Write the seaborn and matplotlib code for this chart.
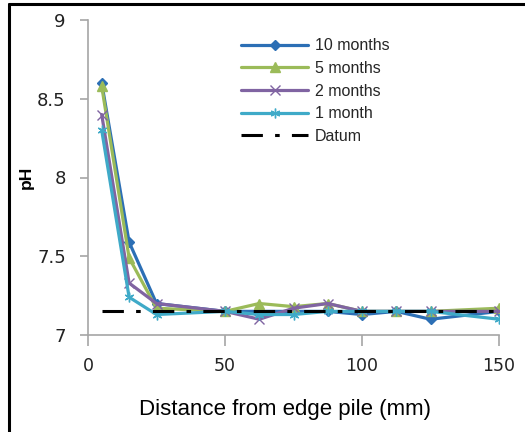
import matplotlib
matplotlib.use("Agg")
import matplotlib.pyplot as plt
import seaborn as sns
import pandas as pd
from matplotlib.lines import Line2D
from matplotlib.ticker import FuncFormatter

distance = [5, 15, 25, 50, 62.5, 75, 87.5, 100, 112.5, 125, 150]
ph_10m = [8.60, 7.59, 7.20, 7.15, 7.15, 7.15, 7.15, 7.13, 7.15, 7.10, 7.15]
ph_5m = [8.58, 7.49, 7.17, 7.15, 7.20, 7.18, 7.20, 7.15, 7.15, 7.15, 7.17]
ph_2m = [8.40, 7.33, 7.20, 7.15, 7.10, 7.17, 7.20, 7.15, 7.15, 7.15, 7.15]
ph_1m = [8.30, 7.24, 7.13, 7.15, 7.13, 7.13, 7.15, 7.15, 7.15, 7.15, 7.10]
datum_x = [5, 150]
datum_y = [7.15, 7.15]
series_names = ["10 months", "5 months", "2 months", "1 month"]
colors = ["#2C6FB5", "#9BBB59", "#8064A2", "#3FAAC8"]
markers = ["D", "^", "x", (6, 2, 0)]
x_ticks = [0, 50, 100, 150]
y_ticks = [7, 7.5, 8, 8.5, 9]

sns.set_theme(style="white")
plt.rcParams["font.family"] = ["Liberation Sans", "DejaVu Sans"]

fig = plt.figure(figsize=(5.25, 4.32), dpi=100)
ax = fig.add_axes([88/525, 1-335/432, (499-88)/525, (335-20)/432])

rows = []
for name, vals in zip(series_names, [ph_10m, ph_5m, ph_2m, ph_1m]):
    for d, v in zip(distance, vals):
        rows.append({"Distance": d, "pH": v, "Series": name})
df = pd.DataFrame(rows)

for name, col, mk in zip(series_names, colors, markers):
    sub = df[df["Series"] == name]
    ms = 5 if mk == "D" else 7
    sns.lineplot(data=sub, x="Distance", y="pH", ax=ax, color=col, marker=mk,
                 markersize=ms, markeredgecolor=col, markerfacecolor=col,
                 markeredgewidth=1.0, linewidth=2.3, label=name, sort=False)

dd = pd.DataFrame({"Distance": datum_x, "pH": datum_y})
sns.lineplot(data=dd, x="Distance", y="pH", ax=ax, color="black",
             linewidth=2.2, label="Datum")
ax.lines[-1].set_dashes([7, 4, 1.5, 4])

ax.set_xlim(0, 150)
ax.set_ylim(7, 9)
ax.set_xticks(x_ticks)
ax.set_yticks(y_ticks)
ax.yaxis.set_major_formatter(FuncFormatter(lambda v, p: f"{v:g}"))
for s in ["top", "right"]:
    ax.spines[s].set_visible(False)
for s in ["left", "bottom"]:
    ax.spines[s].set_color("#A6A6A6")
    ax.spines[s].set_linewidth(1.2)
ax.tick_params(axis="x", direction="out", length=8, width=1.2, color="#A6A6A6",
               pad=8, labelsize=12.5, labelcolor="#222222", bottom=True)
ax.tick_params(axis="y", direction="out", length=6, width=1.2, color="#A6A6A6",
               pad=10, labelsize=13, labelcolor="#222222", left=True)
for lab in ax.get_xticklabels() + ax.get_yticklabels():
    lab.set_family(["DejaVu Sans"])
ax.set_xlabel("Distance from edge pile (mm)", fontsize=16, color="black",
              va="center")
ax.xaxis.set_label_coords(0.479, (335 - 410) / 315)
ax.set_ylabel("pH", fontsize=12.5, fontweight="bold", labelpad=2, color="black")
ax.grid(False)

leg = ax.legend(loc="upper left", bbox_to_anchor=(235/525, 1-32/432),
                bbox_transform=fig.transFigure, frameon=False, fontsize=11.5,
                handlelength=4.2, handletextpad=0.4, labelspacing=0.48,
                borderaxespad=0)

fig.add_artist(Line2D([9/525, 9/525], [0, 1-4/432], color="black", linewidth=2.2,
                      transform=fig.transFigure))
fig.add_artist(Line2D([9/525, 1], [1-4/432, 1-4/432], color="black", linewidth=2.2,
                      transform=fig.transFigure))

fig.savefig("out.png", dpi=100)
